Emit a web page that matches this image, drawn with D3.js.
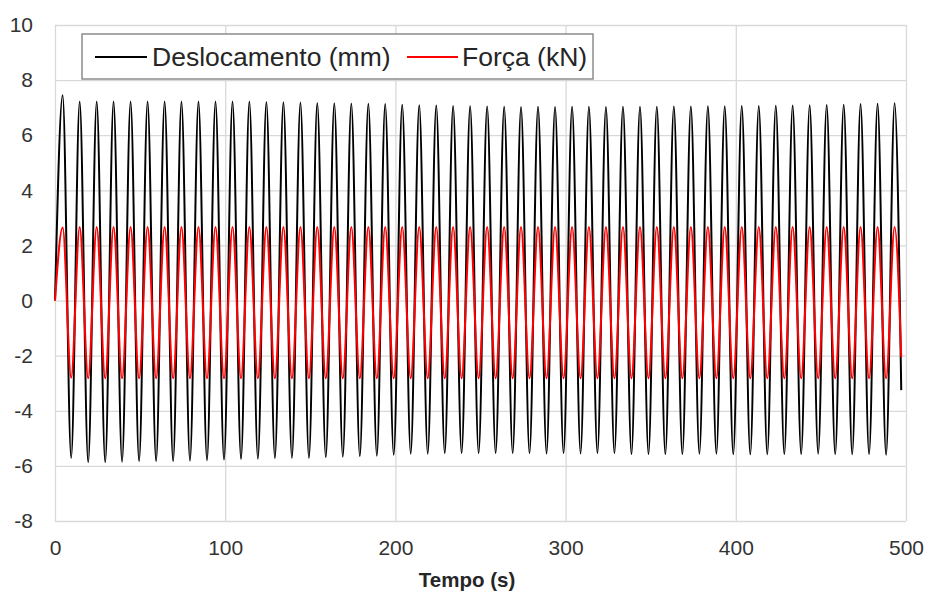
<!DOCTYPE html>
<html>
<head>
<meta charset="utf-8">
<script src="https://cdn.jsdelivr.net/npm/d3@7/dist/d3.min.js"></script>
<style>
  html, body { margin: 0; padding: 0; background: #fff; }
  svg { display: block; font-family: "Liberation Sans", Arial, sans-serif; }
</style>
</head>
<body>
<svg id="chart" width="925" height="596"></svg>
<script>
// ---- Data ----
const xTicks = [0, 100, 200, 300, 400, 500];
const yTicks = [-8, -6, -4, -2, 0, 2, 4, 6, 8, 10];

const seriesNames = ["Deslocamento (mm)", "Força (kN)"];

// Start and end samples
const startTime = 0;
const endTime = 497.2;
const deslStart = 0, deslEnd = -3.25;
const forcaStart = 0, forcaEnd = -2.05;

// Times of the cycle peaks (s)
const peakTime = [4.5, 14.5, 24.5, 34.4, 44.4, 54.4, 64.4, 74.3, 84.3, 94.3,
  104.3, 114.2, 124.2, 134.2, 144.2, 154.1, 164.1, 174.1, 184.1, 194.0,
  204.0, 214.0, 224.0, 233.9, 243.9, 253.9, 263.9, 273.8, 283.8, 293.8,
  303.8, 313.7, 323.7, 333.7, 343.7, 353.6, 363.6, 373.6, 383.6, 393.5,
  403.5, 413.5, 423.5, 433.4, 443.4, 453.4, 463.4, 473.3, 483.3, 493.3];

// Times of the cycle troughs (s)
const troughTime = [9.5, 19.5, 29.5, 39.4, 49.4, 59.4, 69.4, 79.3, 89.3, 99.3,
  109.3, 119.2, 129.2, 139.2, 149.2, 159.1, 169.1, 179.1, 189.1, 199.0,
  209.0, 219.0, 229.0, 238.9, 248.9, 258.9, 268.9, 278.8, 288.8, 298.8,
  308.8, 318.7, 328.7, 338.7, 348.7, 358.6, 368.6, 378.6, 388.6, 398.5,
  408.5, 418.5, 428.5, 438.4, 448.4, 458.4, 468.4, 478.3, 488.3];

// Deslocamento (mm): peak and trough values
const deslPeak = [7.45, 7.22, 7.22, 7.22, 7.22, 7.22, 7.22, 7.22, 7.22, 7.22,
  7.22, 7.22, 7.21, 7.2, 7.19, 7.17, 7.16, 7.15, 7.14, 7.13,
  7.11, 7.09, 7.08, 7.06, 7.05, 7.04, 7.03, 7.02, 7.03, 7.02,
  7.03, 7.03, 7.02, 7.03, 7.03, 7.03, 7.04, 7.04, 7.05, 7.05,
  7.06, 7.06, 7.07, 7.08, 7.09, 7.1, 7.11, 7.13, 7.14, 7.16];
const deslTrough = [-5.71, -5.87, -5.87, -5.85, -5.83, -5.83, -5.83, -5.81, -5.8, -5.77,
  -5.75, -5.74, -5.72, -5.71, -5.71, -5.69, -5.67, -5.65, -5.63, -5.6,
  -5.56, -5.56, -5.54, -5.54, -5.54, -5.54, -5.54, -5.54, -5.55, -5.54,
  -5.55, -5.54, -5.54, -5.58, -5.58, -5.58, -5.58, -5.56, -5.56, -5.58,
  -5.58, -5.58, -5.58, -5.58, -5.56, -5.58, -5.58, -5.58, -5.6];

// Força (kN): peak and trough values
const forcaPeak = [2.65, 2.67, 2.67, 2.67, 2.67, 2.67, 2.67, 2.67, 2.67, 2.67,
  2.67, 2.67, 2.67, 2.67, 2.67, 2.67, 2.67, 2.67, 2.67, 2.67,
  2.67, 2.67, 2.67, 2.67, 2.67, 2.67, 2.67, 2.67, 2.67, 2.67,
  2.67, 2.67, 2.67, 2.67, 2.67, 2.67, 2.67, 2.67, 2.67, 2.67,
  2.67, 2.67, 2.67, 2.67, 2.67, 2.67, 2.67, 2.67, 2.67, 2.67];
const forcaTrough = [-2.8, -2.82, -2.82, -2.82, -2.82, -2.82, -2.82, -2.82, -2.82, -2.82,
  -2.82, -2.82, -2.82, -2.82, -2.82, -2.82, -2.82, -2.82, -2.82, -2.82,
  -2.82, -2.82, -2.82, -2.82, -2.82, -2.82, -2.82, -2.82, -2.82, -2.82,
  -2.82, -2.82, -2.82, -2.82, -2.82, -2.82, -2.82, -2.82, -2.82, -2.82,
  -2.82, -2.82, -2.82, -2.82, -2.82, -2.82, -2.82, -2.82, -2.82];

// ---- Build point lists ----
function buildSeries(start, peaks, troughs, end) {
  const pts = [{t: startTime, v: start}];
  peakTime.forEach((t, i) => pts.push({t, v: peaks[i]}));
  troughTime.forEach((t, i) => pts.push({t, v: troughs[i]}));
  pts.push({t: endTime, v: end});
  pts.sort((a, b) => a.t - b.t);
  return pts;
}
const deslData = buildSeries(deslStart, deslPeak, deslTrough, deslEnd);
const forcaData = buildSeries(forcaStart, forcaPeak, forcaTrough, forcaEnd);

// ---- Drawing ----
const svg = d3.select("#chart");
const mLeft = 55, mRight = 906, mTop = 25, mBottom = 521;

const x = d3.scaleLinear().domain([0, 500]).range([mLeft, mRight]);
const y = d3.scaleLinear().domain([-8, 10]).range([mBottom, mTop]);

const gridColor = "#d9d9d9";
const labelColor = "#333333";
const fmt = d => String(d);

// Y axis with gridlines
const yAxis = svg.append("g")
  .attr("transform", `translate(${mLeft},0)`)
  .call(d3.axisLeft(y).tickValues(yTicks).tickSize(-(mRight - mLeft)).tickPadding(22).tickFormat(fmt));
yAxis.select(".domain").remove();
yAxis.selectAll("line").attr("stroke", gridColor).attr("stroke-width", 1.3);
yAxis.selectAll("text").attr("fill", labelColor).style("font-size", "21px")
  .attr("font-family", "'Liberation Sans', Arial, sans-serif");

// X axis with gridlines
const xAxis = svg.append("g")
  .attr("transform", `translate(0,${mBottom})`)
  .call(d3.axisBottom(x).tickValues(xTicks).tickSize(-(mBottom - mTop)).tickPadding(19).tickFormat(fmt));
xAxis.select(".domain").remove();
xAxis.selectAll("line").attr("stroke", gridColor).attr("stroke-width", 1.3);
xAxis.selectAll("text").attr("fill", labelColor).style("font-size", "21px")
  .attr("font-family", "'Liberation Sans', Arial, sans-serif");

// Axis title
svg.append("text")
  .attr("x", 467).attr("y", 587)
  .attr("text-anchor", "middle")
  .attr("fill", "#262626")
  .style("font-size", "20.5px").style("font-weight", "bold")
  .text("Tempo (s)");

// Lines
const line = d3.line().x(d => x(d.t)).y(d => y(d.v)).curve(d3.curveMonotoneX);

svg.append("path").datum(deslData)
  .attr("d", line).attr("fill", "none")
  .attr("stroke", "#000").attr("stroke-width", 2).attr("stroke-linejoin", "round");

svg.append("path").datum(forcaData)
  .attr("d", line).attr("fill", "none")
  .attr("stroke", "#ff0000").attr("stroke-width", 2).attr("stroke-linejoin", "round");

// Legend
const legend = svg.append("g");
legend.append("rect")
  .attr("x", 82).attr("y", 34).attr("width", 511).attr("height", 45)
  .attr("fill", "#fff").attr("stroke", "#8c8c8c").attr("stroke-width", 1.5);

const legendItems = [
  {name: seriesNames[0], color: "#000", x0: 95, x1: 147, tx: 152},
  {name: seriesNames[1], color: "#ff0000", x0: 407, x1: 458, tx: 462}
];
legendItems.forEach(it => {
  legend.append("line")
    .attr("x1", it.x0).attr("x2", it.x1).attr("y1", 57).attr("y2", 57)
    .attr("stroke", it.color).attr("stroke-width", 2);
  legend.append("text")
    .attr("x", it.tx).attr("y", 66)
    .attr("fill", "#262626")
    .style("font-size", "26.5px")
    .text(it.name);
});
</script>
</body>
</html>
